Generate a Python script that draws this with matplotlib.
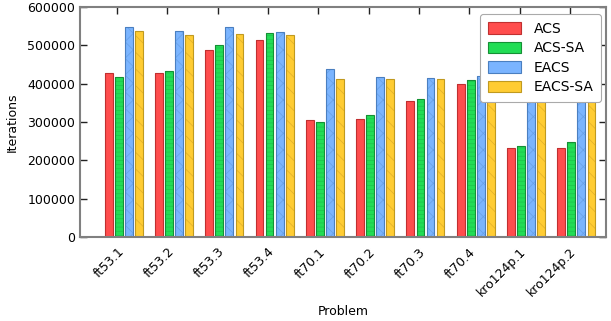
import numpy as np
import matplotlib
matplotlib.use("Agg")
import matplotlib.pyplot as plt

problems = ["ft53.1", "ft53.2", "ft53.3", "ft53.4", "ft70.1",
            "ft70.2", "ft70.3", "ft70.4", "kro124p.1", "kro124p.2"]
acs = [427000, 427000, 487000, 515000, 305000, 309000, 355000, 399000, 231000, 233000]
acs_sa = [417000, 432000, 502000, 531000, 300000, 317000, 360000, 410000, 237000, 247000]
eacs = [549000, 537000, 547000, 534000, 437000, 417000, 416000, 420000, 385000, 353000]
eacs_sa = [537000, 526000, 529000, 527000, 411000, 411000, 411000, 438000, 372000, 375000]

# name, values, fill, edge, hatch colour, hatch
series = [
    ("ACS", acs, "#ff4d4d", "#c03030", "#ff4d4d", None),
    ("ACS-SA", acs_sa, "#22dd55", "#159035", "#1ec24a", "----"),
    ("EACS", eacs, "#7ab4ff", "#4a7fc0", "#68a0e6", "xx"),
    ("EACS-SA", eacs_sa, "#ffcc33", "#c09a20", "#e0ae2a", "\\\\"),
]
offsets = [-0.17, 0.03, 0.23, 0.43]

plt.rcParams['hatch.linewidth'] = 0.5
plt.rcParams['font.size'] = 9

fig = plt.figure(figsize=(6.11, 3.21), dpi=100)
ax = fig.add_axes([80 / 611, 84 / 321, 526 / 611, 230 / 321])

x = np.arange(len(problems))
handles = []
for (name, vals, fc, ec, hc, hatch), off in zip(series, offsets):
    # hatch layer drawn with a soft colour, outline drawn on top
    ax.bar(x + off, vals, width=0.155, color=fc, edgecolor=hc,
           linewidth=0, hatch=hatch, zorder=2)
    ax.bar(x + off, vals, width=0.155, fill=False, edgecolor=ec,
           linewidth=0.8, zorder=2.1)
    handles.append(plt.Rectangle((0, 0), 1, 1, facecolor=fc, edgecolor=ec,
                                 linewidth=0.8, label=name))

ax.set_xlim(-0.74, 9.72)
ax.set_ylim(0, 600000)
ax.set_yticks(np.arange(0, 600001, 100000))
ax.set_yticklabels([str(v) for v in range(0, 600001, 100000)])
ax.set_xticks(x)
ax.set_xticklabels(problems, rotation=45, ha='right', rotation_mode='anchor')
ax.tick_params(direction='in', length=5, width=1, top=True, right=True,
               color='#222222', labelsize=9)
ax.tick_params(axis='x', pad=6)
for s in ax.spines.values():
    s.set_color('#808080')
    s.set_linewidth(1.5)
    s.set_zorder(3)

ax.set_ylabel("Iterations", fontsize=9, labelpad=6)
ax.set_xlabel("Problem", fontsize=9, labelpad=4)

leg = ax.legend(handles=handles, loc='upper right', bbox_to_anchor=(0.9905, 0.97),
                borderaxespad=0, fontsize=10,
                handlelength=2.4, handleheight=0.9, labelspacing=0.4,
                borderpad=0.55, handletextpad=0.9, fancybox=True, framealpha=1)
leg.get_frame().set_edgecolor('#aaaaaa')
leg.get_frame().set_linewidth(0.8)
leg.set_zorder(5)

fig.savefig("out.png", dpi=100)
